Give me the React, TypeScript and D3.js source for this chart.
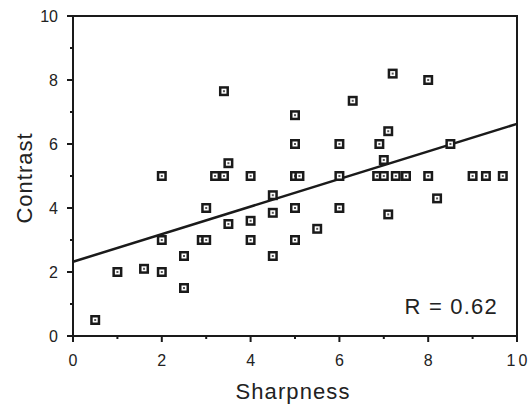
import { useEffect, useRef } from "react"
import * as d3 from "d3"

// Sharpness (x) and Contrast (y) ratings
const sharpness = [
  7.2, 8.0, 3.4, 6.3, 5.0, 7.1, 5.0, 6.0, 6.9, 8.5, 3.5, 7.0,
  2.0, 3.2, 3.4, 4.0, 5.0, 5.1, 6.0, 6.85, 7.0, 7.27, 7.5, 8.0, 9.0, 9.3, 9.68,
  4.5, 8.2, 3.0, 5.0, 6.0, 4.5, 7.1, 4.0, 3.5, 5.5,
  2.0, 2.9, 3.0, 4.0, 5.0, 2.5, 4.5, 1.0, 1.6, 2.0, 2.5, 0.5,
]
const contrast = [
  8.2, 8.0, 7.65, 7.35, 6.9, 6.4, 6.0, 6.0, 6.0, 6.0, 5.4, 5.5,
  5.0, 5.0, 5.0, 5.0, 5.0, 5.0, 5.0, 5.0, 5.0, 5.0, 5.0, 5.0, 5.0, 5.0, 5.0,
  4.4, 4.3, 4.0, 4.0, 4.0, 3.85, 3.8, 3.6, 3.5, 3.35,
  3.0, 3.0, 3.0, 3.0, 3.0, 2.5, 2.5, 2.0, 2.1, 2.0, 1.5, 0.5,
]
const fitIntercept = 2.32
const fitSlope = 0.431
const rLabel = "R = 0.62"
const xTicks = [0, 2, 4, 6, 8, 10]
const yTicks = [0, 2, 4, 6, 8, 10]

const width = 529
const height = 406
const margin = { top: 16, right: 12, bottom: 70, left: 73 }
const font = "Liberation Sans, Arial, Helvetica, sans-serif"

const App = () => {
  const ref = useRef<SVGSVGElement>(null)

  useEffect(() => {
    const svg = d3.select(ref.current)
    svg.selectAll("*").remove()

    const x = d3.scaleLinear().domain([0, 10]).range([margin.left, width - margin.right])
    const y = d3.scaleLinear().domain([0, 10]).range([height - margin.bottom, margin.top])

    // frame
    svg
      .append("rect")
      .attr("x", x(0))
      .attr("y", y(10))
      .attr("width", x(10) - x(0))
      .attr("height", y(0) - y(10))
      .attr("fill", "none")
      .attr("stroke", "#1a1a1a")
      .attr("stroke-width", 2)

    // x ticks
    const xMinor = d3.range(0, 11)
    svg
      .append("g")
      .selectAll("line")
      .data(xMinor)
      .join("line")
      .attr("x1", (d) => x(d))
      .attr("x2", (d) => x(d))
      .attr("y1", y(0))
      .attr("y2", (d) => y(0) + (d % 2 === 0 ? 6 : 3))
      .attr("stroke", "#1a1a1a")
      .attr("stroke-width", 2)

    svg
      .append("g")
      .selectAll("text")
      .data(xTicks)
      .join("text")
      .attr("x", (d) => x(d) + (d === 10 ? 1.5 : 0))
      .attr("y", y(0) + 30)
      .attr("text-anchor", "middle")
      .attr("font-family", font)
      .attr("font-size", 16)
      .attr("letter-spacing", (d) => (d === 10 ? 3 : 0))
      .attr("fill", "#222")
      .text((d) => d)

    // y ticks
    const yMinor = d3.range(0, 11)
    svg
      .append("g")
      .selectAll("line")
      .data(yMinor)
      .join("line")
      .attr("x1", x(0))
      .attr("x2", (d) => x(0) - (d % 2 === 0 ? 6 : 3))
      .attr("y1", (d) => y(d))
      .attr("y2", (d) => y(d))
      .attr("stroke", "#1a1a1a")
      .attr("stroke-width", 2)

    svg
      .append("g")
      .selectAll("text")
      .data(yTicks)
      .join("text")
      .attr("x", x(0) - 15)
      .attr("y", (d) => y(d) + 6)
      .attr("text-anchor", "end")
      .attr("font-family", font)
      .attr("font-size", 16)
      .attr("fill", "#222")
      .text((d) => d)

    // regression line
    svg
      .append("line")
      .attr("x1", x(0))
      .attr("y1", y(fitIntercept))
      .attr("x2", x(10))
      .attr("y2", y(fitIntercept + fitSlope * 10))
      .attr("stroke", "#1a1a1a")
      .attr("stroke-width", 2.5)

    // points
    const pts = sharpness.map((s, i) => [s, contrast[i]])
    const g = svg
      .append("g")
      .selectAll("g")
      .data(pts)
      .join("g")
      .attr("transform", (d) => `translate(${x(d[0])},${y(d[1])})`)
    g.append("rect").attr("x", -5).attr("y", -5).attr("width", 10).attr("height", 10).attr("fill", "#1a1a1a")
    g.append("rect").attr("x", -2.5).attr("y", -2.5).attr("width", 5).attr("height", 5).attr("fill", "#fff")
    g.append("rect").attr("x", -1).attr("y", -1).attr("width", 2).attr("height", 2).attr("fill", "#555")

    // labels
    svg
      .append("text")
      .attr("x", 293)
      .attr("y", 399)
      .attr("text-anchor", "middle")
      .attr("font-family", font)
      .attr("font-size", 22)
      .attr("letter-spacing", 1.1)
      .attr("fill", "#222")
      .text("Sharpness")

    svg
      .append("text")
      .attr("transform", `translate(32,${178}) rotate(-90)`)
      .attr("text-anchor", "middle")
      .attr("font-family", font)
      .attr("font-size", 22)
      .attr("letter-spacing", 1)
      .attr("fill", "#222")
      .text("Contrast")

    svg
      .append("text")
      .attr("x", 498)
      .attr("y", 314)
      .attr("text-anchor", "end")
      .attr("font-family", font)
      .attr("font-size", 22)
      .attr("letter-spacing", 1.2)
      .attr("fill", "#222")
      .text(rLabel)
  }, [])

  return <svg ref={ref} width={width} height={height} style={{ position: "absolute", left: 0, top: 0, background: "#fff" }} />
}

export default App
